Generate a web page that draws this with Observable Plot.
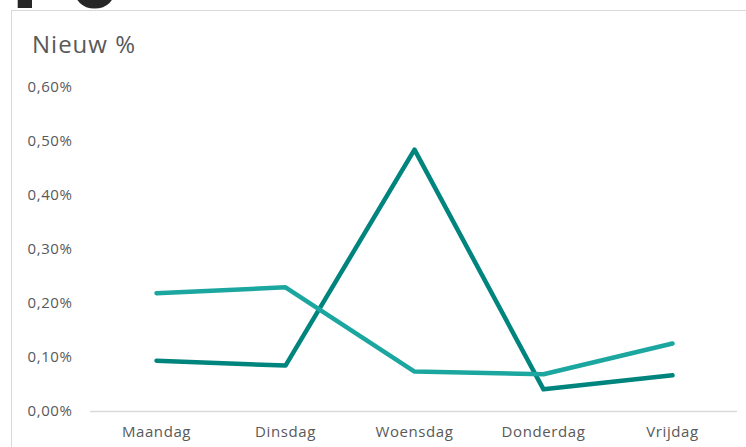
<!DOCTYPE html>
<html>
<head>
<meta charset="utf-8">
<script src="https://cdn.jsdelivr.net/npm/d3@7"></script>
<script src="https://cdn.jsdelivr.net/npm/@observablehq/plot@0.6"></script>
<style>
  html, body { margin: 0; padding: 0; background: #fff; }
  #wrap { position: relative; width: 746px; height: 447px; overflow: hidden; font-family: "Open Sans", sans-serif; }
  #frame { position: absolute; left: 11px; top: 10px; right: -5px; bottom: -5px; border-left: 1.5px solid #d9d9d9; border-top: 1.5px solid #d9d9d9; }
  #title { position: absolute; left: 32px; top: 32px; font-size: 24px; line-height: 24px; letter-spacing: 1px; color: #595959; white-space: nowrap; }
  #deco { position: absolute; left: 0; top: 0; }
  #chart { position: absolute; left: 0; top: 0; }
  #chart svg text { letter-spacing: 0.6px; }
</style>
</head>
<body>
<div id="wrap">
  <svg id="deco" width="746" height="10"><text y="8" font-family="Open Sans, sans-serif" font-weight="800" font-size="74" fill="#262626"><tspan x="12">P</tspan><tspan x="71">o</tspan></text></svg>
  <div id="frame"></div>
  <div id="title">Nieuw %</div>
  <div id="chart"></div>
</div>
<script>
const days = ["Maandag", "Dinsdag", "Woensdag", "Donderdag", "Vrijdag"];
const seriesNames = ["Reeks 1", "Reeks 2"];
// values in percent
const seriesDark = [0.094, 0.085, 0.485, 0.041, 0.067];
const seriesLight = [0.219, 0.230, 0.074, 0.069, 0.126];
const yTicks = [0, 0.1, 0.2, 0.3, 0.4, 0.5, 0.6];
const yTickLabels = ["0,00%", "0,10%", "0,20%", "0,30%", "0,40%", "0,50%", "0,60%"];
const colors = ["#00847e", "#1ba7a0"];

const rows = [];
days.forEach((d, i) => rows.push({day: d, value: seriesDark[i], series: seriesNames[0]}));
days.forEach((d, i) => rows.push({day: d, value: seriesLight[i], series: seriesNames[1]}));

const plot = Plot.plot({
  width: 746,
  height: 447,
  marginLeft: 90,
  marginRight: 9,
  marginTop: 87,
  marginBottom: 36,
  style: {fontFamily: "Open Sans, sans-serif", background: "transparent", color: "#595959"},
  x: {type: "point", domain: days, padding: 0.5, label: null},
  y: {domain: [0, 0.6], label: null},
  color: {domain: seriesNames, range: colors},
  marks: [
    Plot.axisY({ticks: yTicks, tickFormat: d => yTickLabels[yTicks.indexOf(d)], tickSize: 0, tickPadding: 18, fontSize: 15, label: null, fill: "#595959"}),
    Plot.axisX({tickSize: 0, tickPadding: 15, fontSize: 15, label: null, fill: "#595959"}),
    Plot.ruleY([0], {stroke: "#d9d9d9", strokeWidth: 1.5}),
    Plot.line(rows, {x: "day", y: "value", z: "series", stroke: "series", strokeWidth: 4.5, strokeLinecap: "round", strokeLinejoin: "round"})
  ]
});
document.getElementById("chart").appendChild(plot);
</script>
</body>
</html>
